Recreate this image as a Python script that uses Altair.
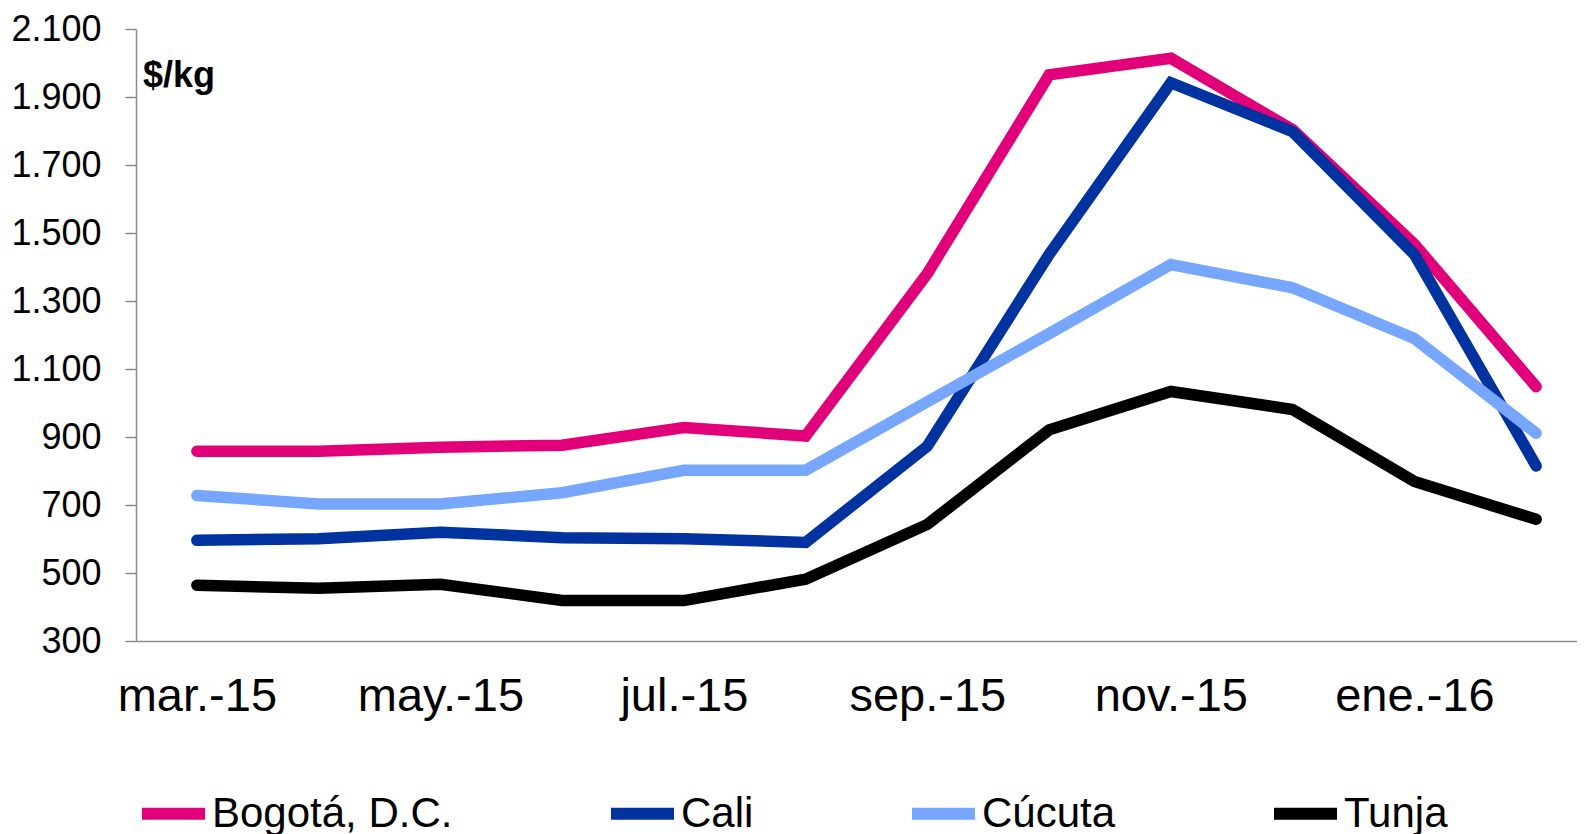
import altair as alt
import pandas as pd

months = ["mar.-15", "abr.-15", "may.-15", "jun.-15", "jul.-15", "ago.-15",
          "sep.-15", "oct.-15", "nov.-15", "dic.-15", "ene.-16", "feb.-16"]
label_months = ["mar.-15", "may.-15", "jul.-15", "sep.-15", "nov.-15", "ene.-16"]

series_names = ["Bogotá, D.C.", "Cali", "Cúcuta", "Tunja"]
bogota = [858, 858, 870, 876, 928, 903, 1381, 1965, 2014, 1804, 1467, 1048]
cali = [596, 601, 620, 604, 601, 590, 873, 1437, 1942, 1798, 1437, 815]
cucuta = [728, 703, 703, 736, 802, 802, 1004, 1204, 1407, 1339, 1190, 911]
tunja = [464, 455, 467, 419, 419, 482, 643, 921, 1034, 981, 769, 658]
colors = ["#E2007A", "#0033A0", "#77A6FF", "#000000"]

rows = []
for name, vals in zip(series_names, [bogota, cali, cucuta, tunja]):
    for m, v in zip(months, vals):
        rows.append({"mes": m, "precio": v, "ciudad": name})
df = pd.DataFrame(rows)

FONT = "Liberation Sans"

lines = alt.Chart(df).mark_line(strokeWidth=11.5, strokeCap="round").encode(
    x=alt.X("mes:N", sort=months,
            scale=alt.Scale(type="point", padding=0.5),
            axis=alt.Axis(title=None, values=label_months, ticks=False, tickSize=0,
                          labelAngle=0, labelFontSize=47, labelPadding=32,
                          labelColor="black", domainColor="#8c8c8c", domainWidth=1.5,
                          labelFont=FONT)),
    y=alt.Y("precio:Q",
            scale=alt.Scale(domain=[300, 2100], nice=False, zero=False),
            axis=alt.Axis(title=None, values=list(range(300, 2101, 200)),
                          labelExpr="replace(format(datum.value, ','), ',', '.')",
                          tickSize=11, tickColor="#8c8c8c", tickWidth=1.5,
                          domainColor="#8c8c8c", domainWidth=1.5,
                          labelFontSize=36, labelPadding=24, labelColor="black",
                          labelFont=FONT, grid=False)),
    color=alt.Color("ciudad:N", sort=series_names,
                    scale=alt.Scale(domain=series_names, range=colors),
                    legend=alt.Legend(title=None, orient="none", legendX=0, legendY=747,
                                      direction="horizontal", columns=4,
                                      columnPadding=134, symbolType="stroke",
                                      symbolSize=3969, symbolStrokeWidth=12,
                                      labelFontSize=42, labelFont=FONT,
                                      labelColor="black", labelLimit=500,
                                      labelOffset=1)),
    order=alt.Order("ciudad:N"),
)

unit = alt.Chart(pd.DataFrame({"t": ["$/kg"]})).mark_text(
    align="left", baseline="alphabetic", fontSize=36, fontWeight="bold",
    font=FONT, color="black"
).encode(text="t:N", x=alt.value(7), y=alt.value(58))

chart = alt.layer(lines, unit).properties(
    width=1461, height=612,
    padding={"left": 128, "top": 21, "right": -20, "bottom": 193},
    autosize=alt.AutoSizeParams(type="none"),
    background="white",
).configure_view(stroke=None)

chart.save("out.html", embed_options={"renderer": "svg", "actions": False})
